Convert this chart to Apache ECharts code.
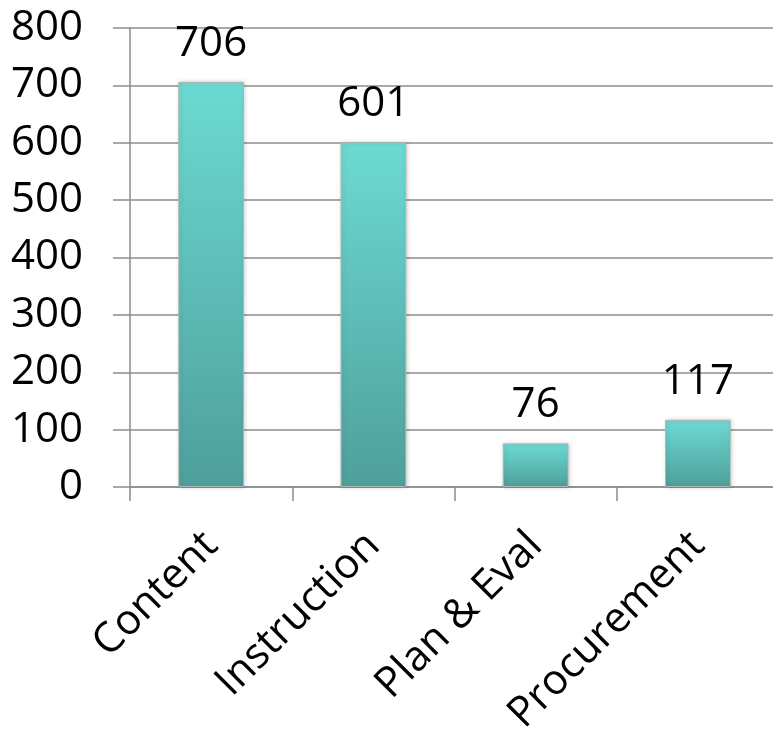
<!DOCTYPE html>
<html>
<head>
<meta charset="utf-8">
<script src="https://cdn.jsdelivr.net/npm/echarts@6/dist/echarts.min.js"></script>
<style>
html,body{margin:0;padding:0;background:#fff;}
#chart{width:773px;height:729px;}
</style>
</head>
<body>
<div id="chart"></div>
<script>
const categories = ['Content', 'Instruction', 'Plan & Eval', 'Procurement'];
const values = [706, 601, 76, 117];
const yTicks = [0, 100, 200, 300, 400, 500, 600, 700, 800];

const chart = echarts.init(document.getElementById('chart'));
const FONT = '"Open Sans", "Liberation Sans", sans-serif';
chart.setOption({
  animation: false,
  backgroundColor: '#ffffff',
  grid: { left: 130, right: -6, top: 28, bottom: 242, containLabel: false, outerBoundsMode: 'none' },
  xAxis: {
    type: 'category',
    data: categories,
    boundaryGap: true,
    axisLine: { show: true, lineStyle: { color: '#8c8c8c', width: 1.5 } },
    axisTick: { show: true, length: 14, lineStyle: { color: '#8c8c8c', width: 1.5 } },
    axisLabel: {
      rotate: 45, margin: 52, color: '#000', fontSize: 42, fontFamily: FONT,
      interval: 0
    }
  },
  yAxis: {
    type: 'value',
    min: yTicks[0], max: yTicks[yTicks.length - 1], interval: 100,
    axisLine: { show: true, lineStyle: { color: '#8c8c8c', width: 1.5 } },
    axisTick: { show: true, length: 17, lineStyle: { color: '#8c8c8c', width: 1.5 } },
    splitLine: { show: true, lineStyle: { color: '#8c8c8c', width: 1.5 } },
    axisLabel: { margin: 47, color: '#000', fontSize: 42, fontFamily: FONT }
  },
  series: [{
    type: 'bar',
    data: values,
    barWidth: '40.5%',
    itemStyle: {
      color: new echarts.graphic.LinearGradient(0, 0, 0, 1, [
        { offset: 0, color: '#6cdad2' },
        { offset: 1, color: '#4f9f9b' }
      ]),
      borderColor: '#a8b8b6',
      borderWidth: 1,
      shadowColor: 'rgba(0,0,0,0.18)',
      shadowBlur: 4,
      shadowOffsetX: 1
    },
    label: {
      show: true, position: 'top', distance: 17,
      color: '#000', fontSize: 42, fontFamily: FONT
    }
  }]
});
</script>
</body>
</html>
